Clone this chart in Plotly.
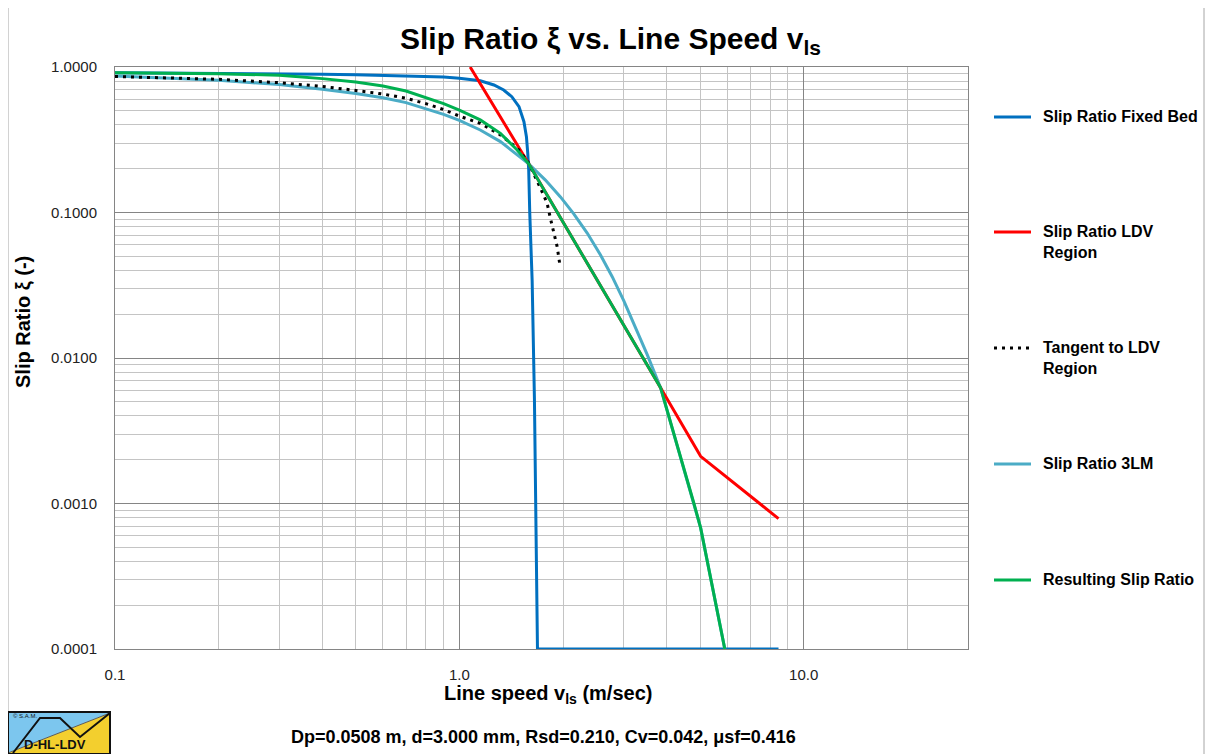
import plotly.graph_objects as go

# ---------------- data ----------------
fixed_bed_x = [0.1, 0.2, 0.3, 0.4, 0.5, 0.6, 0.7, 0.8, 0.9, 1.0, 1.1, 1.15, 1.26, 1.345,
               1.42, 1.49, 1.54, 1.566, 1.58, 1.59, 1.601, 1.627, 1.652, 1.669, 1.686, 8.45]
fixed_bed_y = [0.912, 0.906, 0.9, 0.891, 0.884, 0.877, 0.870, 0.862, 0.852, 0.838, 0.82, 0.805,
               0.752, 0.695, 0.625, 0.534, 0.421, 0.332, 0.255, 0.196, 0.10, 0.034, 0.0052,
               0.00077, 0.0001, 0.0001]

ldv_x = [1.075, 1.59, 3.84, 5.02, 8.45]
ldv_y = [1.0, 0.216, 0.00625, 0.00211, 0.000787]

tangent_x = [0.1, 0.2, 0.3, 0.4, 0.5, 0.6, 0.7, 0.8, 0.9, 1.0, 1.15, 1.316, 1.472, 1.58,
             1.72, 1.798, 1.838, 1.879, 1.923, 1.957]
tangent_y = [0.86, 0.823, 0.78, 0.735, 0.69, 0.652, 0.61, 0.56, 0.51, 0.46, 0.41, 0.341,
             0.277, 0.225, 0.147, 0.116, 0.0914, 0.0721, 0.0583, 0.0443]

lm3_x = [0.1, 0.2, 0.3, 0.4, 0.5, 0.6, 0.7, 0.8, 0.9, 1.0, 1.15, 1.316, 1.472, 1.59, 1.778,
         1.966, 2.149, 2.351, 2.57, 2.779, 3.004, 3.248, 3.512, 3.84, 4.80, 5.02, 5.9]
lm3_y = [0.867, 0.81, 0.757, 0.704, 0.657, 0.614, 0.569, 0.519, 0.473, 0.43, 0.369, 0.307,
         0.249, 0.216, 0.167, 0.128, 0.098, 0.0722, 0.051, 0.0362, 0.0247, 0.01633,
         0.01054, 0.00625, 0.001, 0.00068, 0.0001]

result_x = [0.1, 0.2, 0.3, 0.4, 0.5, 0.6, 0.7, 0.8, 0.9, 1.0, 1.15, 1.316, 1.472, 1.59,
            3.84, 4.80, 5.02, 5.9]
result_y = [0.912, 0.9, 0.877, 0.832, 0.789, 0.74, 0.684, 0.612, 0.56, 0.505, 0.433, 0.35,
            0.269, 0.216, 0.00625, 0.001, 0.00068, 0.0001]

series_names = ["Slip Ratio Fixed Bed", "Slip Ratio LDV<br>Region", "Tangent to LDV<br>Region",
                "Slip Ratio 3LM", "Resulting Slip Ratio"]
series_colors = ["#0070C0", "#FF0000", "#000000", "#4BACC6", "#00B050"]

x_tick_vals = [0.1, 1, 10]
x_tick_text = ["0.1", "1.0", "10.0"]
y_tick_vals = [0.0001, 0.001, 0.01, 0.1, 1]
y_tick_text = ["0.0001", "0.0010", "0.0100", "0.1000", "1.0000"]

title_text = "<b>Slip Ratio ξ vs. Line Speed v<sub>ls</sub></b>"
x_title = "<b>Line speed v<sub>ls</sub> (m/sec)</b>"
y_title = "<b>Slip Ratio ξ (-)</b>"
footer = "<b>Dp=0.0508 m, d=3.000 mm, Rsd=0.210, Cv=0.042, μsf=0.416</b>"

# ---------------- layout geometry ----------------
W, H = 1213, 754
OFF = 8                      # page body margin offset
L, R, T, B = 115, 968, 67, 649   # plot area in screen pixels
FONT = "Liberation Sans, Arial, sans-serif"


def px(x):
    return (x - L) / (R - L)


def py(y):
    return (B - y) / (B - T)


fig = go.Figure()
series = [(fixed_bed_x, fixed_bed_y), (ldv_x, ldv_y), (tangent_x, tangent_y),
          (lm3_x, lm3_y), (result_x, result_y)]
draw_order = [0, 3, 1, 2, 4]
for i in draw_order:
    xs, ys = series[i]
    dash = "solid" if i != 2 else "3px,5px"
    fig.add_trace(go.Scatter(x=xs, y=ys, mode="lines", name=series_names[i],
                             line=dict(color=series_colors[i], width=3, dash=dash),
                             cliponaxis=False, showlegend=False))

major_grid = "#858585"
minor_grid = "#c4c4c4"
x_minor = [m * 10 ** k for k in (-1, 0) for m in range(2, 10)] + [20]
y_minor = [m * 10 ** k for k in (-4, -3, -2, -1) for m in range(2, 10)]

fig.update_xaxes(type="log", range=[-1, 1.4771], tickvals=x_tick_vals, ticktext=x_tick_text,
                 showgrid=True, gridcolor=major_grid, gridwidth=1,
                 minor=dict(tickvals=x_minor, showgrid=True, gridcolor=minor_grid, gridwidth=1),
                 showline=True, linecolor=major_grid, linewidth=1, mirror=True,
                 ticks="", ticklabelstandoff=12, zeroline=False,
                 tickfont=dict(family=FONT, size=15, color="#222222"))
fig.update_yaxes(type="log", range=[-4, 0], tickvals=y_tick_vals, ticktext=y_tick_text,
                 showgrid=True, gridcolor=major_grid, gridwidth=1,
                 minor=dict(tickvals=y_minor, showgrid=True, gridcolor=minor_grid, gridwidth=1),
                 showline=True, linecolor=major_grid, linewidth=1, mirror=True,
                 ticks="", ticklabelstandoff=14, zeroline=False,
                 tickfont=dict(family=FONT, size=15, color="#222222"))

shapes = []
annotations = []

# outer chart frame
shapes.append(dict(type="rect", xref="paper", yref="paper", x0=px(8), x1=px(1204),
                   y0=py(760), y1=py(5), line=dict(color="#a6a6a6", width=1), layer="below"))

# manual legend
leg_y = [117, 232, 348, 464, 580]
for i, yy in enumerate(leg_y):
    shapes.append(dict(type="line", xref="paper", yref="paper", x0=px(994), x1=px(1031),
                       y0=py(yy), y1=py(yy),
                       line=dict(color=series_colors[i], width=3,
                                 dash="solid" if i != 2 else "3px,5px")))
    annotations.append(dict(text="<b>" + series_names[i] + "</b>", xref="paper", yref="paper",
                            x=px(1041), y=py(yy - 11), xanchor="left", yanchor="top",
                            align="left", showarrow=False,
                            font=dict(family=FONT, size=16, color="#000000")))

# titles
annotations.append(dict(text=title_text, xref="paper", yref="paper", x=px(610), y=py(41),
                        xanchor="center", yanchor="middle", showarrow=False,
                        font=dict(family=FONT, size=30, color="#000000")))
annotations.append(dict(text=x_title, xref="paper", yref="paper", x=px(548), y=py(694),
                        xanchor="center", yanchor="middle", showarrow=False,
                        font=dict(family=FONT, size=20, color="#000000")))
annotations.append(dict(text=y_title, xref="paper", yref="paper", x=px(23), y=py(322),
                        xanchor="center", yanchor="middle", showarrow=False, textangle=-90,
                        font=dict(family=FONT, size=20, color="#000000")))
annotations.append(dict(text=footer, xref="paper", yref="paper", x=px(543), y=py(737),
                        xanchor="center", yanchor="middle", showarrow=False,
                        font=dict(family=FONT, size=18, color="#000000")))


# logo (bottom-left)
def pth(points):
    return "M " + " L ".join(f"{px(a):.5f},{py(b):.5f}" for a, b in points)


shapes.append(dict(type="path", xref="paper", yref="paper",
                   path=pth([(8, 713), (110, 713), (8, 753)]) + " Z",
                   fillcolor="#7cc6ee", line=dict(width=0)))
shapes.append(dict(type="path", xref="paper", yref="paper",
                   path=pth([(8, 753), (110, 713), (110, 754), (8, 754)]) + " Z",
                   fillcolor="#f3cf2e", line=dict(width=0)))
shapes.append(dict(type="path", xref="paper", yref="paper",
                   path=pth([(8, 753), (110, 713)]),
                   line=dict(color="#5a5a5a", width=1)))
shapes.append(dict(type="path", xref="paper", yref="paper",
                   path=pth([(13, 753), (40, 718), (60, 718), (80, 737), (110, 713)]),
                   line=dict(color="#111111", width=2)))
shapes.append(dict(type="rect", xref="paper", yref="paper", x0=px(8), x1=px(110),
                   y0=py(754), y1=py(712), line=dict(color="#111111", width=2)))
annotations.append(dict(text="<b>D-HL-LDV</b>", xref="paper", yref="paper", x=px(55),
                        y=py(744), xanchor="center", yanchor="middle", showarrow=False,
                        font=dict(family=FONT, size=13, color="#111111")))
annotations.append(dict(text="© S.A.M.", xref="paper", yref="paper", x=px(11),
                        y=py(716), xanchor="left", yanchor="middle", showarrow=False,
                        font=dict(family=FONT, size=6, color="#111111")))

fig.update_layout(width=W, height=H,
                  margin=dict(l=L - OFF, r=W - (R - OFF), t=T - OFF, b=H - (B - OFF)),
                  paper_bgcolor="white", plot_bgcolor="white",
                  shapes=shapes, annotations=annotations, showlegend=False,
                  font=dict(family=FONT))

fig.write_html("out.html")
